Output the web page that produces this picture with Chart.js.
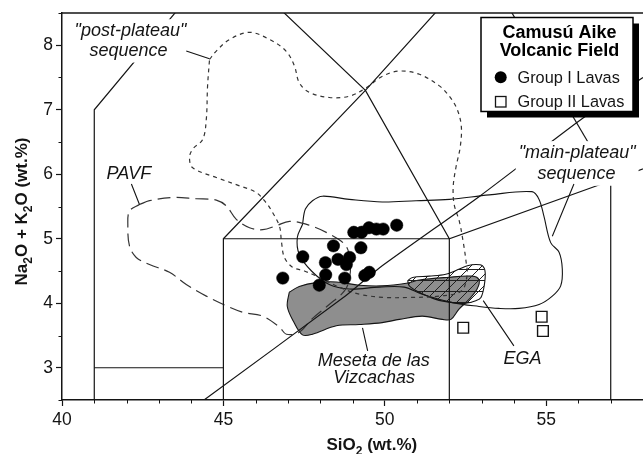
<!DOCTYPE html>
<html>
<head>
<meta charset="utf-8">
<title>TAS diagram – Camusú Aike Volcanic Field</title>
<script src="https://cdn.jsdelivr.net/npm/chart.js@4.4.1/dist/chart.umd.min.js"></script>
<style>
  html, body { margin: 0; padding: 0; background: #fff; }
  canvas { display: block; }
</style>
</head>
<body>
<canvas id="tas" width="643" height="454"></canvas>
<script>
const FONT = '"Liberation Sans", Arial, Helvetica, sans-serif';
const INK = '#141414';

// Axis ticks
const xTicks = [40, 45, 50, 55];
const yTicks = [3, 4, 5, 6, 7, 8];

// Group I lavas: SiO2 and total alkalis (wt.%)
const groupI_SiO2 = [46.84, 47.46, 47.97, 48.16, 48.17, 48.41, 48.55, 48.91, 48.81, 48.76,
                     49.26, 49.38, 49.52, 49.04, 49.28, 49.51, 49.74, 49.95, 50.37];
const groupI_alk  = [4.39, 4.72, 4.28, 4.63, 4.44, 4.89, 4.68, 4.71, 4.60, 4.39,
                     4.86, 4.43, 4.48, 5.10, 5.10, 5.17, 5.15, 5.15, 5.21];

// Group II lavas
const groupII_SiO2 = [52.43, 54.86, 54.90];
const groupII_alk  = [3.62, 3.79, 3.57];

// TAS classification boundaries (Le Bas et al., 1986)
const tasLines = [
  [[41, 2.5], [41, 7], [45, 9.4]],
  [[41, 3], [45, 3]],
  [[45, 2.5], [45, 5], [52, 5], [52, 2.5]],
  [[45, 5], [49.4, 7.3], [53, 9.3]],
  [[45, 9.4], [49.4, 7.3], [52, 5], [57, 5.9], [63, 7]],
  [[57, 2.5], [57, 5.9]],
  [[53, 9.3], [57, 5.9]]
];

// Alkaline / subalkaline divide
const alkalineDivide = [[44.4, 2.5], [48.8, 4.12], [49.84, 4.55], [52.94, 5.66], [56.08, 6.85], [58, 7.5]];

// Compositional fields of other Patagonian suites
const postPlateauField = [
  [44.57, 7.78], [44.78, 7.91], [45.19, 8.09], [45.81, 8.20], [46.43, 8.09], [46.94, 7.91],
  [47.20, 7.68], [47.35, 7.42], [47.66, 7.27], [48.28, 7.19], [48.90, 7.21], [49.42, 7.34],
  [49.93, 7.52], [50.45, 7.60], [51.07, 7.55], [51.69, 7.37], [52.00, 7.21], [52.24, 7.01],
  [52.37, 6.75], [52.34, 6.43], [52.21, 6.12], [52.12, 5.81], [52.15, 5.53], [52.31, 5.27],
  [52.43, 4.95], [52.52, 4.64], [52.55, 4.43], [52.37, 4.19], [51.69, 4.11], [50.76, 4.09],
  [49.99, 4.09], [49.21, 4.14], [48.59, 4.25], [47.97, 4.40], [47.51, 4.50], [47.14, 4.56],
  [46.89, 4.71], [46.80, 4.95], [46.74, 5.19], [46.52, 5.41], [46.32, 5.56], [46.01, 5.72],
  [45.50, 5.82], [44.78, 5.95], [44.05, 6.10], [43.95, 6.26], [44.05, 6.39], [44.36, 6.54],
  [44.47, 6.85], [44.51, 7.37]
];
const pavfField = [
  [42.40, 5.53], [42.71, 5.59], [43.43, 5.64], [44.16, 5.62], [44.78, 5.60], [45.09, 5.51],
  [45.40, 5.30], [45.81, 5.17], [46.22, 5.14], [46.63, 5.20], [47.05, 5.27], [47.66, 5.21],
  [48.22, 5.09], [48.78, 4.90], [48.93, 4.65], [48.90, 4.37], [48.75, 4.19], [48.28, 3.98],
  [47.73, 3.75], [47.35, 3.55], [46.95, 3.52], [46.74, 3.63], [46.22, 3.80], [45.60, 3.86],
  [45.09, 3.96], [44.47, 4.11], [43.85, 4.29], [43.33, 4.48], [42.71, 4.60], [42.30, 4.71],
  [42.09, 4.89], [42.04, 5.20], [42.09, 5.43]
];
const mainPlateauField = [
  [47.45, 5.22], [47.54, 5.46], [47.76, 5.59], [48.07, 5.66], [48.90, 5.61], [49.92, 5.57],
  [50.97, 5.59], [52.00, 5.61], [53.24, 5.68], [54.56, 5.73], [54.78, 5.61], [54.93, 5.35],
  [55.14, 4.94], [55.40, 4.79], [55.50, 4.53], [55.45, 4.27], [55.19, 4.11], [54.78, 3.98],
  [54.16, 3.92], [53.54, 3.92], [52.92, 3.95], [52.10, 4.01], [51.16, 4.14], [50.60, 4.25],
  [49.83, 4.25], [48.90, 4.22], [48.28, 4.29], [47.73, 4.50], [47.35, 4.76], [47.29, 5.02]
];
const mesetaField = [
  [47.04, 4.17], [47.35, 4.26], [47.88, 4.32], [48.50, 4.33], [49.21, 4.28], [49.92, 4.27],
  [50.67, 4.31], [51.07, 4.36], [51.91, 4.40], [52.71, 4.42], [52.92, 4.36], [52.86, 4.22],
  [52.61, 4.06], [52.30, 3.91], [52.05, 3.75], [51.78, 3.75], [51.16, 3.80], [50.45, 3.75],
  [49.92, 3.70], [49.21, 3.67], [48.50, 3.65], [47.76, 3.52], [47.45, 3.51], [47.17, 3.72],
  [46.98, 3.95]
];
const egaField = [
  [50.71, 4.35], [50.86, 4.40], [51.38, 4.42], [51.89, 4.45], [52.31, 4.53], [52.56, 4.58],
  [52.82, 4.60], [53.03, 4.58], [53.11, 4.48], [53.08, 4.27], [52.98, 4.09], [52.82, 4.04],
  [52.51, 4.00], [52.10, 4.01], [51.58, 4.06], [51.07, 4.17], [50.76, 4.27]
];

// Field names: centre SiO2, baseline alkalis; masked groups sit on a white box
const fieldLabels = [
  { masked: true,  lines: [['"post-plateau"', 42.12, 8.14], ['sequence', 42.06, 7.84]] },
  { masked: false, lines: [['PAVF', 42.07, 5.92]] },
  { masked: true,  lines: [['"main-plateau"', 55.96, 6.25], ['sequence', 55.94, 5.93]] },
  { masked: false, lines: [['Meseta de las', 49.66, 3.03], ['Vizcachas', 49.67, 2.76]] },
  { masked: false, lines: [['EGA', 54.27, 3.06]] }
];
// Leader lines from the names to their fields
const leaders = [
  [[43.85, 7.91], [44.57, 7.79]],
  [[42.15, 5.85], [42.40, 5.53]],
  [[55.86, 5.85], [55.19, 5.04]],
  [[49.31, 3.62], [49.47, 3.26]],
  [[53.05, 4.04], [54.00, 3.34]]
];

const toXY = pts => pts.map(([x, y]) => ({ x, y }));
const closed = pts => pts.concat([pts[0]]);

const canvas = document.getElementById('tas');
const mainCtx = canvas.getContext('2d');

// Cross-hatch used for the EGA field
function hatchPattern() {
  const t = document.createElement('canvas');
  t.width = 11; t.height = 11;
  const g = t.getContext('2d');
  g.strokeStyle = '#202020';
  g.lineWidth = 1;
  g.beginPath();
  g.moveTo(-1, 12); g.lineTo(12, -1);
  g.moveTo(-1, 1); g.lineTo(1, -1);
  g.moveTo(10, 12); g.lineTo(12, 10);
  g.moveTo(0, 5.5); g.lineTo(11, 5.5);
  g.stroke();
  return mainCtx.createPattern(t, 'repeat');
}

const outline = (data, extra) => Object.assign({
  data: toXY(data), showLine: true, fill: false, tension: 0,
  borderColor: INK, borderWidth: 1.2, pointRadius: 0, pointHoverRadius: 0, pointHitRadius: 0
}, extra);

const datasets = [
  outline(closed(mesetaField), { label: 'Meseta de las Vizcachas', fill: 'shape', backgroundColor: '#8e8e8e', tension: 0.35, borderWidth: 1.1, order: 30 }),
  outline(closed(egaField), { label: 'EGA', fill: 'shape', backgroundColor: hatchPattern(), tension: 0.35, borderWidth: 1.1, order: 29 }),
  outline(closed(mainPlateauField), { label: 'main-plateau sequence', tension: 0.35, borderWidth: 1.1, order: 28 }),
  outline(closed(postPlateauField), { label: 'post-plateau sequence', tension: 0.35, borderWidth: 1.2, borderDash: [4, 4], borderColor: '#333', order: 27 }),
  outline(closed(pavfField), { label: 'PAVF', tension: 0.35, borderWidth: 1.2, borderDash: [13, 6], borderColor: '#333', order: 26 }),
  ...tasLines.map((l, i) => outline(l, { label: 'TAS ' + i, order: 20 })),
  outline(alkalineDivide, { label: 'alkaline divide', tension: 0.2, order: 20 }),
  {
    label: 'Group II Lavas',
    data: groupII_SiO2.map((x, i) => ({ x, y: groupII_alk[i] })),
    pointStyle: 'rect', pointRadius: 7.6, pointHoverRadius: 7.6,
    backgroundColor: '#fff', borderColor: INK, borderWidth: 1.4, order: 2
  },
  {
    label: 'Group I Lavas',
    data: groupI_SiO2.map((x, i) => ({ x, y: groupI_alk[i] })),
    pointStyle: 'circle', pointRadius: 6.2, pointHoverRadius: 6.2,
    backgroundColor: '#000', borderColor: '#000', borderWidth: 0.5, order: 1
  }
];

// Text with subscripted parts: parts = [[text, isSub], ...], centred on x = 0
function drawRich(ctx, parts, size) {
  const main = `bold ${size}px ${FONT}`;
  const sub = `bold ${Math.round(size * 0.68)}px ${FONT}`;
  let w = 0;
  parts.forEach(([t, s]) => { ctx.font = s ? sub : main; w += ctx.measureText(t).width; });
  let x = -w / 2;
  ctx.textAlign = 'left';
  ctx.textBaseline = 'alphabetic';
  parts.forEach(([t, s]) => {
    ctx.font = s ? sub : main;
    ctx.fillText(t, x, s ? size * 0.3 : 0);
    x += ctx.measureText(t).width;
  });
}

const decorations = {
  id: 'decorations',
  afterDatasetsDraw(chart) {
    const { ctx, chartArea: a, scales: { x, y } } = chart;
    ctx.save();

    // top frame line
    ctx.strokeStyle = INK;
    ctx.lineWidth = 1.5;
    ctx.beginPath();
    ctx.moveTo(a.left, a.top);
    ctx.lineTo(a.right, a.top);
    ctx.stroke();

    // minor ticks
    ctx.lineWidth = 1;
    ctx.beginPath();
    for (let v = Math.ceil(x.min); v <= x.max; v++) {
      if (xTicks.includes(v)) continue;
      const px = Math.round(x.getPixelForValue(v)) + 0.5;
      ctx.moveTo(px, a.bottom); ctx.lineTo(px, a.bottom + 3.5);
    }
    for (let v = y.min; v <= y.max + 1e-9; v += 0.5) {
      if (yTicks.includes(v)) continue;
      const py = Math.round(y.getPixelForValue(v)) + 0.5;
      ctx.moveTo(a.left, py); ctx.lineTo(a.left - 3.5, py);
    }
    ctx.stroke();

    // field names
    ctx.font = `italic 18px ${FONT}`;
    ctx.textAlign = 'center';
    ctx.textBaseline = 'alphabetic';
    fieldLabels.forEach(g => {
      if (g.masked) {
        let l = Infinity, r = -Infinity, t = Infinity, b = -Infinity;
        g.lines.forEach(([txt, vx, vy]) => {
          const w = ctx.measureText(txt).width;
          const cx = x.getPixelForValue(vx), by = y.getPixelForValue(vy);
          l = Math.min(l, cx - w / 2); r = Math.max(r, cx + w / 2);
          t = Math.min(t, by - 14); b = Math.max(b, by + 5);
        });
        ctx.fillStyle = '#fff';
        ctx.fillRect(l - 3, t - 3, r - l + 6, b - t + 5);
      }
      ctx.fillStyle = INK;
      g.lines.forEach(([txt, vx, vy]) => ctx.fillText(txt, x.getPixelForValue(vx), y.getPixelForValue(vy)));
    });

    // leaders
    ctx.strokeStyle = INK;
    ctx.lineWidth = 1.1;
    ctx.beginPath();
    leaders.forEach(([p, q]) => {
      ctx.moveTo(x.getPixelForValue(p[0]), y.getPixelForValue(p[1]));
      ctx.lineTo(x.getPixelForValue(q[0]), y.getPixelForValue(q[1]));
    });
    ctx.stroke();

    // axis titles
    ctx.fillStyle = INK;
    ctx.save();
    ctx.translate(x.getPixelForValue(49.6), 450);
    drawRich(ctx, [['SiO', false], ['2', true], [' (wt.%)', false]], 17);
    ctx.restore();
    ctx.save();
    ctx.translate(26.5, 211.5);
    ctx.rotate(-Math.PI / 2);
    drawRich(ctx, [['Na', false], ['2', true], ['O + K', false], ['2', true], ['O (wt.%)', false]], 17);
    ctx.restore();

    // legend box with drop shadow
    const bx = 481, by = 17.5, bw = 152, bh = 94;
    ctx.fillStyle = '#000';
    ctx.fillRect(bx + 6, by + 6, bw, bh);
    ctx.fillStyle = '#fff';
    ctx.fillRect(bx, by, bw, bh);
    ctx.strokeStyle = '#000';
    ctx.lineWidth = 1.5;
    ctx.strokeRect(bx, by, bw, bh);

    ctx.fillStyle = '#000';
    ctx.font = `bold 18px ${FONT}`;
    ctx.textAlign = 'center';
    ctx.fillText('Camusú Aike', 559.5, 37.8);
    ctx.fillText('Volcanic Field', 559.5, 56.3);

    ctx.font = `16.3px ${FONT}`;
    ctx.textAlign = 'left';
    ctx.fillStyle = INK;
    ctx.fillText(datasets[datasets.length - 1].label, 517.5, 83);
    ctx.fillText(datasets[datasets.length - 2].label, 517.5, 107);

    ctx.fillStyle = '#000';
    ctx.beginPath();
    ctx.arc(500.7, 77.3, 6, 0, Math.PI * 2);
    ctx.fill();
    ctx.fillStyle = '#fff';
    ctx.strokeStyle = INK;
    ctx.lineWidth = 1.3;
    ctx.fillRect(495.5, 96.5, 10.5, 10.5);
    ctx.strokeRect(495.5, 96.5, 10.5, 10.5);

    ctx.restore();
  }
};

new Chart(canvas, {
  type: 'scatter',
  data: { datasets },
  options: {
    responsive: false,
    animation: false,
    events: [],
    layout: { autoPadding: false, padding: { top: 13, right: 0, bottom: 0, left: 0 } },
    plugins: { legend: { display: false }, tooltip: { enabled: false } },
    scales: {
      x: {
        type: 'linear', min: 40, max: 58,
        afterBuildTicks: s => { s.ticks = xTicks.map(v => ({ value: v })); },
        afterFit: s => { s.height = 54; s.paddingLeft = 0; s.paddingRight = 0; },
        grid: { drawOnChartArea: false, drawTicks: true, tickLength: 6, tickColor: INK, tickWidth: 1.2 },
        border: { display: true, color: INK, width: 1.5 },
        ticks: { font: { family: FONT, size: 17.5 }, color: INK, padding: 4, maxRotation: 0, autoSkip: false }
      },
      y: {
        type: 'linear', min: 2.5, max: 8.5,
        afterBuildTicks: s => { s.ticks = yTicks.map(v => ({ value: v })); },
        afterFit: s => { s.width = 62; s.paddingTop = 0; s.paddingBottom = 0; },
        grid: { drawOnChartArea: false, drawTicks: true, tickLength: 6, tickColor: INK, tickWidth: 1.2 },
        border: { display: true, color: INK, width: 1.5 },
        ticks: { font: { family: FONT, size: 17.5 }, color: INK, padding: 3, autoSkip: false }
      }
    }
  },
  plugins: [decorations]
});
</script>
</body>
</html>
